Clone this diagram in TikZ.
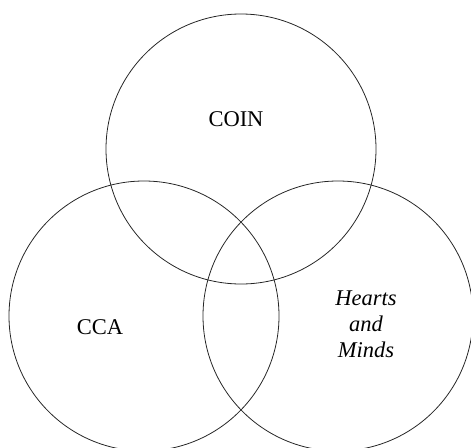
\documentclass[tikz,border=0pt]{standalone}
\usepackage{fontspec}
\setmainfont{Liberation Serif}
\begin{document}
\begin{tikzpicture}[x=1pt,y=-1pt,
  ring/.style={draw=black!85,line width=0.8pt,circle,minimum size=270pt,inner sep=0pt},
  lbl/.style={font=\fontsize{22.5}{26}\selectfont,align=center,inner sep=0pt}]
\useasboundingbox (0,0) rectangle (471,447);
\clip (0,0) rectangle (471,447);
\node[ring] (coin) at (241,149) {};
\node[ring] (cca) at (144,316) {};
\node[ring] (hm) at (338,316) {};
\node[lbl] (coinl) at (236,119) {COIN};
\node[lbl] (ccal) at (100,327) {CCA};
\node[lbl,font=\fontsize{22.5}{26}\selectfont\itshape] (hml) at (366,324) {Hearts\\and\\Minds};
\end{tikzpicture}
\end{document}
